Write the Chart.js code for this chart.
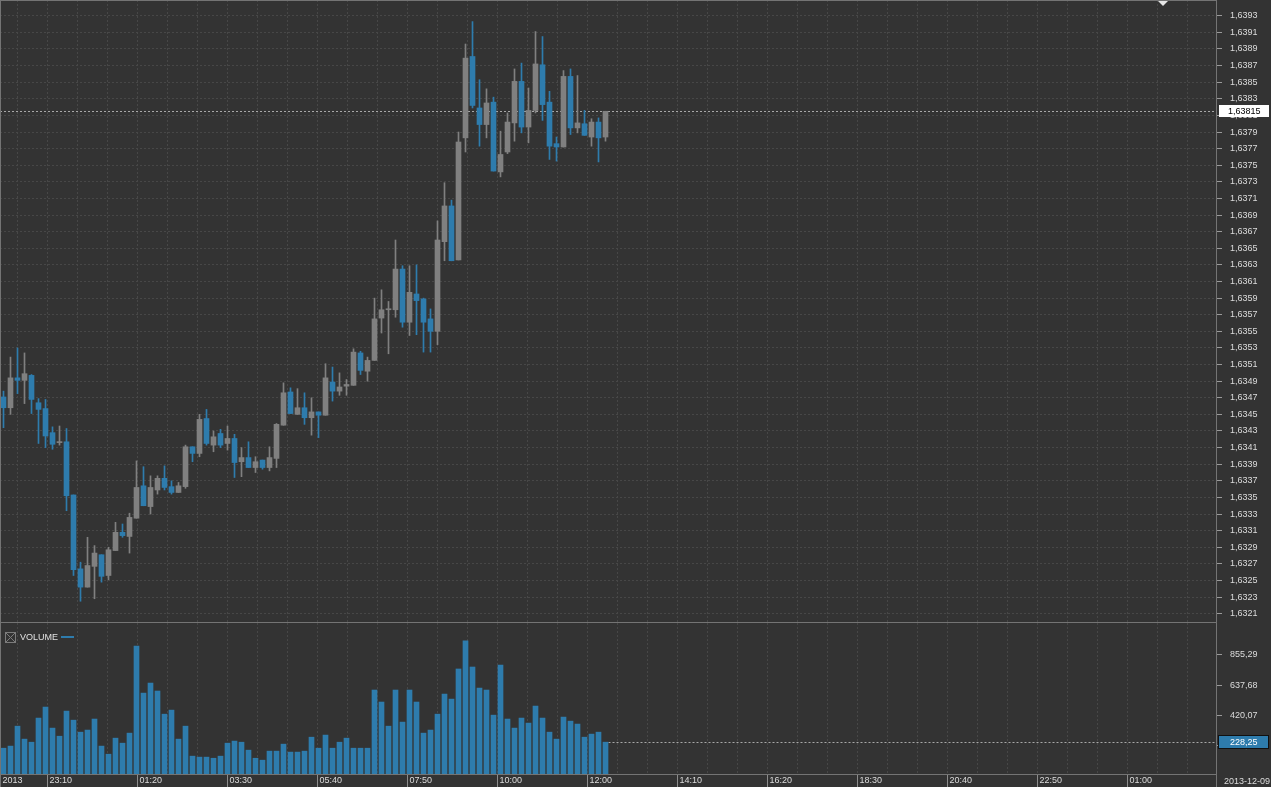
<!DOCTYPE html>
<html>
<head>
<meta charset="utf-8">
<script src="https://cdn.jsdelivr.net/npm/chart.js@4.4.0/dist/chart.umd.min.js"></script>
<style>
  html, body { margin: 0; padding: 0; background: #333333; }
  body { width: 1271px; height: 787px; position: relative; overflow: hidden; }
  canvas { position: absolute; left: 0; }
  #priceChart { top: 0; }
  #volumeChart { top: 623px; }
</style>
</head>
<body>
<canvas id="priceChart" width="1271" height="623"></canvas>
<canvas id="volumeChart" width="1271" height="164"></canvas>
<script>
// 10 minute candles
const opens = [
  1.63471, 1.63458, 1.63494, 1.63491, 1.63497, 1.63464, 1.63457, 1.63428, 1.63416, 1.63417,
  1.63353, 1.63264, 1.63242, 1.63267, 1.63281, 1.63256, 1.63286, 1.63308, 1.63303, 1.63325,
  1.63364, 1.63339, 1.63359, 1.63373, 1.63363, 1.63356, 1.63363, 1.63411, 1.63403, 1.63445,
  1.63413, 1.63427, 1.63415, 1.63421, 1.63393, 1.63398, 1.63386, 1.63395, 1.63386, 1.63397,
  1.63437, 1.63477, 1.63450, 1.63458, 1.63446, 1.63453, 1.63449, 1.63489, 1.63478, 1.63484,
  1.63485, 1.63524, 1.63502, 1.63515, 1.63566, 1.63576, 1.63576, 1.63625, 1.63561, 1.63595,
  1.63589, 1.63565, 1.63550, 1.63658, 1.63701, 1.63636, 1.63783, 1.63881, 1.63819, 1.63799,
  1.63826, 1.63742, 1.63766, 1.63801, 1.63851, 1.63796, 1.63816, 1.63871, 1.63826, 1.63776,
  1.63772, 1.63857, 1.63795, 1.63800, 1.63784, 1.63802, 1.63784
];
const highs = [
  1.63478, 1.63519, 1.63530, 1.63524, 1.63498, 1.63469, 1.63468, 1.63435, 1.63436, 1.63433,
  1.63353, 1.63272, 1.63302, 1.63292, 1.63281, 1.63290, 1.63320, 1.63318, 1.63331, 1.63394,
  1.63387, 1.63376, 1.63376, 1.63388, 1.63370, 1.63368, 1.63413, 1.63411, 1.63450, 1.63456,
  1.63430, 1.63432, 1.63436, 1.63426, 1.63410, 1.63417, 1.63399, 1.63395, 1.63411, 1.63439,
  1.63488, 1.63482, 1.63481, 1.63476, 1.63470, 1.63453, 1.63511, 1.63507, 1.63500, 1.63492,
  1.63529, 1.63526, 1.63519, 1.63590, 1.63600, 1.63586, 1.63660, 1.63629, 1.63629, 1.63630,
  1.63590, 1.63577, 1.63683, 1.63729, 1.63708, 1.63790, 1.63896, 1.63923, 1.63853, 1.63842,
  1.63832, 1.63791, 1.63813, 1.63866, 1.63873, 1.63843, 1.63911, 1.63905, 1.63839, 1.63784,
  1.63864, 1.63866, 1.63858, 1.63816, 1.63806, 1.63807, 1.63815
];
const lows = [
  1.63434, 1.63450, 1.63475, 1.63463, 1.63451, 1.63415, 1.63410, 1.63408, 1.63413, 1.63334,
  1.63256, 1.63225, 1.63242, 1.63228, 1.63248, 1.63251, 1.63286, 1.63302, 1.63283, 1.63325,
  1.63340, 1.63330, 1.63354, 1.63359, 1.63354, 1.63356, 1.63361, 1.63393, 1.63399, 1.63413,
  1.63405, 1.63410, 1.63407, 1.63374, 1.63375, 1.63386, 1.63380, 1.63384, 1.63382, 1.63386,
  1.63437, 1.63451, 1.63450, 1.63438, 1.63425, 1.63422, 1.63449, 1.63466, 1.63473, 1.63473,
  1.63485, 1.63498, 1.63490, 1.63515, 1.63548, 1.63523, 1.63567, 1.63555, 1.63545, 1.63546,
  1.63525, 1.63525, 1.63534, 1.63635, 1.63635, 1.63636, 1.63766, 1.63819, 1.63773, 1.63783,
  1.63743, 1.63736, 1.63764, 1.63779, 1.63789, 1.63777, 1.63813, 1.63804, 1.63757, 1.63755,
  1.63772, 1.63787, 1.63789, 1.63786, 1.63773, 1.63754, 1.63779
];
const closes = [
  1.63458, 1.63494, 1.63491, 1.63499, 1.63468, 1.63456, 1.63424, 1.63414, 1.63417, 1.63352,
  1.63263, 1.63242, 1.63268, 1.63283, 1.63255, 1.63287, 1.63308, 1.63304, 1.63326, 1.63362,
  1.63340, 1.63362, 1.63373, 1.63362, 1.63356, 1.63364, 1.63411, 1.63403, 1.63444, 1.63415,
  1.63423, 1.63413, 1.63421, 1.63392, 1.63398, 1.63386, 1.63393, 1.63386, 1.63398, 1.63438,
  1.63476, 1.63451, 1.63458, 1.63446, 1.63453, 1.63449, 1.63494, 1.63478, 1.63483, 1.63486,
  1.63525, 1.63503, 1.63515, 1.63565, 1.63576, 1.63577, 1.63625, 1.63561, 1.63597, 1.63587,
  1.63561, 1.63550, 1.63660, 1.63701, 1.63635, 1.63778, 1.63879, 1.63822, 1.63799, 1.63825,
  1.63743, 1.63763, 1.63802, 1.63851, 1.63796, 1.63816, 1.63872, 1.63823, 1.63773, 1.63772,
  1.63857, 1.63795, 1.63801, 1.63786, 1.63802, 1.63783, 1.63815
];
const volumes = [
  185, 200, 343, 250, 228, 401, 480, 329, 271, 451,
  386, 300, 315, 394, 200, 142, 257, 221, 293, 918,
  580, 652, 595, 429, 458, 250, 343, 128, 121, 121,
  113, 128, 221, 236, 228, 171, 113, 99, 164, 164,
  214, 157, 157, 164, 264, 185, 279, 185, 228, 257,
  185, 185, 185, 602, 516, 343, 602, 372, 602, 516,
  293, 315, 429, 573, 537, 753, 954, 767, 616, 602,
  422, 781, 394, 329, 401, 365, 487, 401, 300, 250,
  408, 379, 358, 264, 286, 300, 228.25
];
const timeLabels = ['2013', '23:10', '01:20', '03:30', '05:40', '07:50', '10:00', '12:00',
  '14:10', '16:20', '18:30', '20:40', '22:50', '01:00'];
const priceTicks = [
  1.6321, 1.6323, 1.6325, 1.6327, 1.6329, 1.6331, 1.6333, 1.6335, 1.6337, 1.6339,
  1.6341, 1.6343, 1.6345, 1.6347, 1.6349, 1.6351, 1.6353, 1.6355, 1.6357, 1.6359,
  1.6361, 1.6363, 1.6365, 1.6367, 1.6369, 1.6371, 1.6373, 1.6375, 1.6377, 1.6379,
  1.6381, 1.6383, 1.6385, 1.6387, 1.6389, 1.6391, 1.6393
];
const volumeTicks = [202.46, 420.07, 637.68, 855.29];
const lastPrice = 1.63815;
const lastVolume = 228.25;
const dateLabel = '2013-12-09';

const UP = '#808080';
const DOWN = '#2e7cad';
const GRID = '#474747';
const TEXT = '#dcdcdc';
const FRAME = '#747474';
const FONT = { family: 'Liberation Sans, Arial, sans-serif', size: 9 };

const candleColors = closes.map((c, i) => c >= opens[i] ? UP : DOWN);
const comma = (v, d) => v.toFixed(d).replace('.', ',');

// x axis: one unit per bar, 7px per bar over a 1216px plot
const xMin = -0.5;
const xMax = -0.5 + 1216 / 7;
const gridStep = 30 / 7;
const timeTickValues = [-3 / 7];
const timeTickTexts = [timeLabels[0]];
for (let j = 0, v = 2; v < xMax; j++, v = 2 + j * gridStep) {
  timeTickValues.push(v);
  timeTickTexts.push(j % 3 === 1 ? (timeLabels[1 + (j - 1) / 3] || '') : '');
}

function noPad(axis) {
  axis.paddingLeft = 0; axis.paddingRight = 0;
  axis.paddingTop = 0; axis.paddingBottom = 0;
}

function timeAxis(showLabels) {
  return {
    type: 'linear', min: xMin, max: xMax, offset: false,
    afterBuildTicks: axis => { axis.ticks = timeTickValues.map(v => ({ value: v })); },
    afterFit: axis => { noPad(axis); axis.height = showLabels ? 13 : 0; },
    grid: {
      offset: false, color: GRID, lineWidth: 1,
      drawTicks: showLabels, tickLength: 13,
      tickColor: ctx => timeTickTexts[ctx.index] ? '#8c8c8c' : 'rgba(0,0,0,0)'
    },
    border: { display: false, dash: [2, 2] },
    ticks: {
      display: showLabels, autoSkip: false, maxRotation: 0, minRotation: 0,
      align: 'start', labelOffset: 2, padding: -12,
      color: TEXT, font: FONT,
      callback: (v, i) => timeTickTexts[i]
    }
  };
}

const priceDecor = {
  id: 'priceDecor',
  beforeDatasetsDraw(chart) {
    const { ctx, chartArea, scales } = chart;
    const y = Math.round(scales.y.getPixelForValue(lastPrice)) + 0.5;
    ctx.save();
    ctx.strokeStyle = '#a8a8a8';
    ctx.setLineDash([2, 2]);
    ctx.beginPath();
    ctx.moveTo(chartArea.left, y);
    ctx.lineTo(chartArea.right, y);
    ctx.stroke();
    ctx.restore();
  },
  afterDraw(chart) {
    const { ctx, chartArea, scales } = chart;
    ctx.save();
    ctx.strokeStyle = FRAME;
    ctx.lineWidth = 1;
    ctx.strokeRect(chartArea.left + 0.5, chartArea.top + 0.5, chartArea.right - chartArea.left, chartArea.bottom - chartArea.top);
    // price box
    const y = scales.y.getPixelForValue(lastPrice);
    ctx.fillStyle = '#ffffff';
    ctx.fillRect(chartArea.right + 3, Math.round(y) - 6, 50, 12);
    ctx.fillStyle = '#000000';
    ctx.font = '9px ' + FONT.family;
    ctx.textBaseline = 'middle';
    ctx.fillText(comma(lastPrice, 5), chartArea.right + 12, Math.round(y) + 0.5);
    // scroll marker
    ctx.fillStyle = '#e6e6e6';
    ctx.beginPath();
    ctx.moveTo(chartArea.right - 58, 1);
    ctx.lineTo(chartArea.right - 48, 1);
    ctx.lineTo(chartArea.right - 53, 6);
    ctx.closePath();
    ctx.fill();
    ctx.restore();
  }
};

const volumeDecor = {
  id: 'volumeDecor',
  beforeDatasetsDraw(chart) {
    const { ctx, chartArea, scales } = chart;
    const y = Math.round(scales.y.getPixelForValue(lastVolume)) + 0.5;
    const x0 = scales.x.getPixelForValue(volumes.length - 1) + 3;
    ctx.save();
    ctx.strokeStyle = '#a8a8a8';
    ctx.setLineDash([2, 2]);
    ctx.beginPath();
    ctx.moveTo(x0, y);
    ctx.lineTo(chartArea.right, y);
    ctx.stroke();
    ctx.restore();
  },
  afterDraw(chart) {
    const { ctx, chartArea, scales, height } = chart;
    ctx.save();
    ctx.strokeStyle = FRAME;
    ctx.lineWidth = 1;
    ctx.beginPath();
    ctx.moveTo(0.5, 0); ctx.lineTo(0.5, height);
    ctx.moveTo(chartArea.right + 0.5, 0); ctx.lineTo(chartArea.right + 0.5, height);
    ctx.moveTo(0, chartArea.bottom + 0.5); ctx.lineTo(chartArea.right, chartArea.bottom + 0.5);
    ctx.stroke();

    // legend
    ctx.strokeStyle = '#7c7c7c';
    ctx.strokeRect(5.5, 9.5, 10, 10);
    ctx.beginPath();
    ctx.moveTo(6, 10); ctx.lineTo(15, 19);
    ctx.moveTo(15, 10); ctx.lineTo(6, 19);
    ctx.stroke();
    ctx.font = '9px ' + FONT.family;
    ctx.textBaseline = 'middle';
    ctx.fillStyle = '#e0e0e0';
    ctx.fillText('VOLUME', 20, 15);
    ctx.fillStyle = DOWN;
    ctx.fillRect(61, 13, 13, 2);

    // last volume box
    const y = Math.round(scales.y.getPixelForValue(lastVolume));
    ctx.fillStyle = DOWN;
    ctx.fillRect(chartArea.right + 2, y - 7, 51, 14);
    ctx.strokeStyle = '#111111';
    ctx.strokeRect(chartArea.right + 2.5, y - 6.5, 50, 13);
    ctx.fillStyle = '#ffffff';
    ctx.fillText(comma(lastVolume, 2), chartArea.right + 14, y + 0.5);

    // date in the corner
    ctx.fillStyle = TEXT;
    ctx.fillText(dateLabel, chartArea.right + 8, chartArea.bottom + 7.5);
    ctx.restore();
  }
};

Chart.defaults.font.family = FONT.family;

const priceChart = new Chart(document.getElementById('priceChart'), {
  type: 'bar',
  data: {
    datasets: [
      {
        label: 'body',
        data: opens.map((o, i) => ({ x: i, y: [o, closes[i]] })),
        backgroundColor: candleColors,
        barThickness: 5, minBarLength: 1, grouped: false, borderWidth: 0
      },
      {
        label: 'wick',
        data: lows.map((l, i) => ({ x: i, y: [l, highs[i]] })),
        backgroundColor: candleColors,
        barThickness: 1, grouped: false, borderWidth: 0
      }
    ]
  },
  options: {
    responsive: false, animation: false, devicePixelRatio: 1,
    layout: { padding: { left: 0, right: 0, top: 0, bottom: 1 } },
    plugins: { legend: { display: false }, tooltip: { enabled: false } },
    scales: {
      x: timeAxis(false),
      y: {
        type: 'linear', position: 'right', min: 1.63200, max: 1.63949, beginAtZero: false,
        afterBuildTicks: axis => { axis.ticks = priceTicks.map(v => ({ value: v })); },
        afterFit: axis => { noPad(axis); axis.width = 55; },
        grid: { color: GRID, tickLength: 6, tickColor: '#9a9a9a' },
        border: { display: false, dash: [2, 2] },
        ticks: { color: TEXT, font: FONT, padding: 8, callback: v => comma(v, 4) }
      }
    }
  },
  plugins: [priceDecor]
});

const volumeChart = new Chart(document.getElementById('volumeChart'), {
  type: 'bar',
  data: {
    datasets: [{
      label: 'VOLUME',
      data: volumes.map((v, i) => ({ x: i, y: v })),
      backgroundColor: DOWN,
      barThickness: 5, borderWidth: 0
    }]
  },
  options: {
    responsive: false, animation: false, devicePixelRatio: 1,
    layout: { padding: 0 },
    plugins: { legend: { display: false }, tooltip: { enabled: false } },
    scales: {
      x: timeAxis(true),
      y: {
        type: 'linear', position: 'right', min: 0, max: 1082.6,
        afterBuildTicks: axis => { axis.ticks = volumeTicks.map(v => ({ value: v })); },
        afterFit: axis => { noPad(axis); axis.width = 55; },
        grid: { drawOnChartArea: false, tickLength: 6, tickColor: '#9a9a9a' },
        border: { display: false },
        ticks: { color: TEXT, font: FONT, padding: 8, callback: v => comma(v, 2) }
      }
    }
  },
  plugins: [volumeDecor]
});
</script>
</body>
</html>
